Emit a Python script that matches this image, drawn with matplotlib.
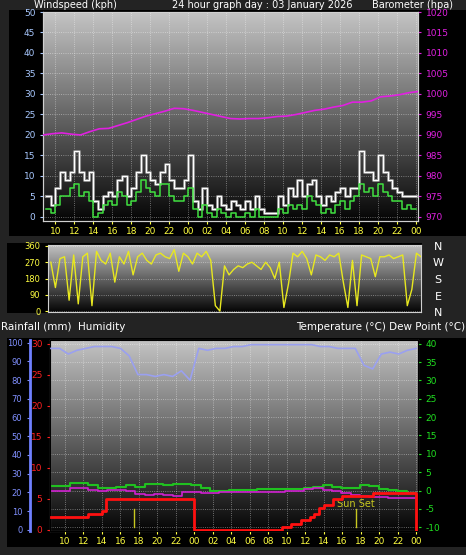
import numpy as np
import matplotlib
matplotlib.use("Agg")
import matplotlib.pyplot as plt

W, H = 466, 555

# ---- data (hours relative to first midnight) ----
wind_avg = [2, 1, 3, 5, 5, 7, 8, 5, 6, 4, 0, 1, 3, 4, 3, 6, 5, 3, 4, 6, 9, 7, 6, 5, 8, 8, 5, 4,
            4, 5, 7, 2, 0, 3, 1, 0, 2, 1, 0, 1, 0, 0, 1, 0, 2, 0, 0, 0, 0, 2, 1, 3, 2, 3, 2, 5,
            4, 3, 1, 2, 1, 3, 4, 2, 4, 5, 8, 6, 7, 5, 8, 6, 5, 4, 4, 2, 3, 2, 2]
wind_gust = [5, 3, 7, 11, 9, 11, 16, 11, 9, 11, 4, 2, 5, 6, 5, 9, 10, 5, 7, 11, 15, 11, 9, 8, 11, 13,
             9, 7, 7, 9, 15, 4, 2, 7, 3, 2, 5, 3, 2, 4, 3, 2, 4, 2, 5, 2, 1, 1, 1, 5, 3, 7, 5, 9,
             5, 8, 9, 5, 3, 5, 4, 6, 7, 5, 7, 7, 16, 11, 11, 9, 15, 11, 9, 7, 6, 5, 5, 5, 5]
baro = [990, 990.3, 990.5, 990.2, 990, 990.8, 991.5, 991.6, 992.3, 993, 993.8, 994.6, 995.2,
        995.8, 996.5, 996.4, 996, 995.5, 995, 994.5, 994, 993.9, 994, 994, 994.2, 994.5, 994.6,
        995, 995.5, 996, 996.3, 996.8, 997.2, 998, 998, 998.3, 999.3, 999.5, 999.8, 1000.3, 1000.6]
wind_dir = [270, 130, 290, 300, 60, 310, 40, 300, 320, 30, 330, 280, 260, 320, 160, 300, 260,
            330, 200, 300, 320, 280, 260, 310, 320, 300, 290, 340, 220, 320, 300, 260, 320, 300,
            330, 280, 30, 0, 250, 200, 230, 250, 240, 260, 270, 250, 230, 270, 240, 180, 270, 20,
            150, 320, 300, 330, 290, 200, 310, 300, 280, 310, 300, 320, 160, 20, 280, 30, 310,
            300, 290, 190, 300, 300, 310, 290, 300, 310, 30, 120, 320, 300]
humidity = [97, 97, 94, 96, 97, 98, 98, 98, 97, 93, 83, 83, 82, 83, 82, 85, 80, 97, 96, 97, 97,
            98, 98, 99, 99, 99, 99, 99, 99, 99, 99, 98, 98, 97, 97, 97, 88, 86, 94, 95, 94, 96, 97]
temperature = [1.2, 1.2, 2.0, 2.2, 1.6, 0.8, 0.8, 1.0, 1.4, 1.0, 1.8, 1.8, 1.4, 1.8, 1.8, 1.4,
               0.6, 0, 0, 0.2, 0.2, 0.2, 0.4, 0.4, 0.4, 0.4, 0.4, 0.6, 1.0, 1.4, 1.0, 0.6, 0.6,
               1.4, 1.2, 0.4, 0.2, 0, -0.6, -0.6]
dewpoint = [0, 0, 0.6, 0.6, 0.2, -0.2, 0.2, 0.2, 0, -0.8, -1.2, -0.8, -1.2, -1.6, -0.4, -0.4,
            -0.6, -0.6, -0.4, -0.4, -0.4, -0.4, -0.4, -0.4, -0.4, -0.2, 0, 0.4, 0.8, 0.2, 0,
            -0.6, -1.2, -1.6, -1.8, -1.8, -2.0, -2.0, -2.0, -2.0]
rain_t = [-15.5, -12, -11.5, -10, -9.5, 0, 0.01, 9, 9.5, 10.5, 11.5, 12.5, 13, 13.5, 14, 15,
          16, 19, 19.3, 23.9, 24]
rain_v = [2, 2, 2.5, 3, 5, 5, 0, 0, 0.5, 1, 1.5, 2, 2.5, 3.5, 4, 5, 5.5, 5.5, 6, 6, 0]
sunset = [-6.5, 17.5]
hour_ticks = list(range(-14, 25, 2))
hour_labels = ["%02d" % (h % 24) for h in hour_ticks]

BG = "#232323"
plt.rcParams["font.family"] = ["DejaVu Sans"]
plt.rcParams["axes.unicode_minus"] = False
fig = plt.figure(figsize=(W / 100, H / 100), dpi=100, facecolor=BG)


def px(l, t, r, b):
    return [l / W, 1 - b / H, (r - l) / W, (b - t) / H]


def backdrop(l, t, r, b):
    a = fig.add_axes(px(l, t, r, b), zorder=-5)
    a.set_facecolor("black")
    a.set_xticks([]); a.set_yticks([])
    for s in a.spines.values():
        s.set_visible(False)


def gradient(ax, x0, x1, y0, y1):
    g = np.linspace(0, 1, 256).reshape(-1, 1)
    ax.imshow(g, extent=[x0, x1, y0, y1], aspect="auto", origin="lower",
              cmap=matplotlib.colors.LinearSegmentedColormap.from_list("g", ["#050505", "#c4c4c4"]),
              zorder=0)
    ax.set_xlim(x0, x1); ax.set_ylim(y0, y1)
    ax.grid(True, color="white", linestyle=":", linewidth=0.6, alpha=0.5, zorder=1)


def style(ax, color, size=6.5):
    ax.tick_params(axis="y", colors=color, labelsize=size, length=2)
    for s in ax.spines.values():
        s.set_color("#d0d0d0")


# ---- top panel: wind + barometer ----
backdrop(9, 10, 466, 236)
ax1 = fig.add_axes(px(43, 12, 418, 221))
x0, x1 = -15.3, 24.2
gradient(ax1, x0, x1, -1, 50)
ax1.set_ylim(-1, 50)
tw = -15 + 0.5 * np.arange(len(wind_avg))
ax1.step(tw, wind_gust, where="post", color="#8a8a8a", lw=2.2, zorder=2)
ax1.step(tw, wind_gust, where="post", color="white", lw=0.8, zorder=3)
ax1.step(tw, wind_avg, where="post", color="#40e040", lw=1.1, zorder=4)
ax1.set_yticks(range(0, 51, 5))
style(ax1, "#a8c8ff")
ax1.set_xticks(hour_ticks, hour_labels)
ax1.tick_params(axis="x", colors="#ffff40", labelsize=6.5, length=2, pad=2)
ax1b = ax1.twinx()
tb = -15.3 + np.arange(len(baro)) * (39.5 / (len(baro) - 1))
ax1b.plot(tb, baro, color="#e020e0", lw=1.2, zorder=5)
ax1b.set_ylim(969, 1020)
ax1b.set_yticks(range(970, 1021, 5))
style(ax1b, "#e020e0")
fig.text(34 / W, 1 - 8 / H, "Windspeed (kph)", color="white", fontsize=7)
fig.text(172 / W, 1 - 8 / H, "24 hour graph day : 03 January 2026", color="white", fontsize=7)
fig.text(372 / W, 1 - 8 / H, "Barometer (hpa)", color="white", fontsize=7)

# ---- middle panel: wind direction ----
backdrop(7, 243, 422, 313)
ax2 = fig.add_axes(px(48, 245, 421, 312))
gradient(ax2, x0, x1, -5, 365)
td = -15 + np.arange(len(wind_dir)) * (39.2 / (len(wind_dir) - 1))
ax2.plot(td, wind_dir, color="#e8e820", lw=1.0, zorder=3)
ax2.set_yticks([0, 90, 180, 270, 360])
ax2.set_xticks([])
style(ax2, "#ffff40", 6)
for i, lab in enumerate(["N", "W", "S", "E", "N"]):
    fig.text(438 / W, 1 - (247 + i * 16.5) / H, lab, color="white", fontsize=8, ha="center", va="center")
fig.text(1 / W, 1 - 330 / H, "Rainfall (mm)  Humidity", color="white", fontsize=7.5)
fig.text(465 / W, 1 - 330 / H, "Temperature (°C) Dew Point (°C)", color="white", fontsize=7.5, ha="right")

# ---- bottom panel: humidity, rain, temperature ----
backdrop(7, 338, 466, 547)
ax3 = fig.add_axes(px(50, 340, 418, 531))
x0b, x1b = -15.6, 24.2
gradient(ax3, x0b, x1b, -11, 41)
th = -15.5 + np.arange(len(humidity)) * (39.5 / (len(humidity) - 1))
tt = -15.5 + np.arange(len(temperature)) * (39.5 / (len(temperature) - 1))
ax3.step(tt, temperature, where="post", color="#20c020", lw=1.5, zorder=4)
ax3.step(tt, dewpoint, where="post", color="#d020d0", lw=1.2, zorder=4)
for s in ax3.spines.values():
    s.set_color("#d0d0d0")
ax3.set_xticks(hour_ticks, hour_labels)
ax3.tick_params(axis="x", colors="#ffff40", labelsize=6.5, length=2, pad=2)
for s in sunset:
    ax3.plot([s, s], [-10, -5], color="#c8c820", lw=1, zorder=3)
ax3.text(17.5, -4.5, "Sun Set", color="#c8c820", fontsize=7, ha="center", zorder=6)

ax3r = ax3.twinx()
ax3r.yaxis.tick_left()
ax3r.set_ylim(-0.2, 30.6)
ax3r.step(rain_t, rain_v, where="post", color="#ff1010", lw=2, zorder=5)
ax3r.set_yticks(range(0, 31, 5))
ax3r.tick_params(axis="y", colors="#ff2020", labelsize=6.5, length=2)

ax3h = ax3.twinx()
ax3h.yaxis.tick_left()
ax3h.spines["left"].set_position(("axes", (30 - 50) / 368))
ax3h.spines["left"].set_color("#7080ff")
ax3h.spines["left"].set_linewidth(2)
for k in ("right", "top", "bottom"):
    ax3h.spines[k].set_visible(False)
ax3h.set_ylim(-0.7, 101.5)
ax3h.plot(th, humidity, color="#9aa0f0", lw=1.2, zorder=5)
ax3h.set_yticks(range(0, 101, 10))
ax3h.tick_params(axis="y", colors="#8090ff", labelsize=6, length=2)

# temperature scale on the right (set after twinx, which resets tick side)
ax3.yaxis.tick_right()
ax3.set_yticks(range(-10, 41, 5))
ax3.tick_params(axis="y", which="both", left=False, labelleft=False, right=True,
                labelright=True, colors="#20e020", labelsize=6.5, length=2)

fig.savefig("out.png", dpi=100, facecolor=BG)
